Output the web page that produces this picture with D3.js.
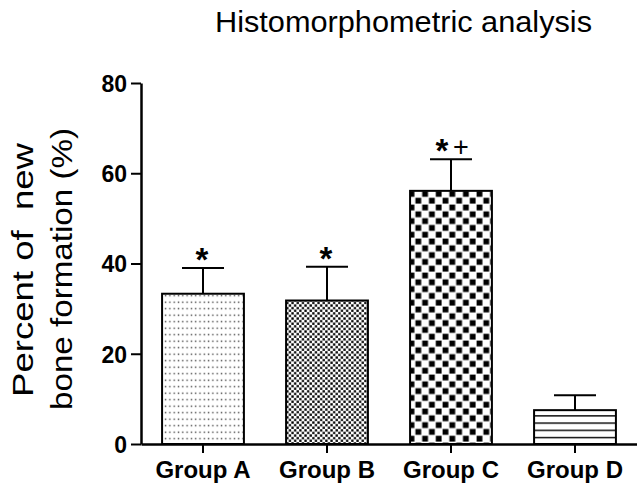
<!DOCTYPE html>
<html><head><meta charset="utf-8">
<script src="https://cdn.jsdelivr.net/npm/d3@7"></script>
<style>body{margin:0;background:#fff}svg{display:block}text{font-family:"Liberation Sans",Arial,sans-serif}</style>
</head><body>
<script>
const groups = ["Group A","Group B","Group C","Group D"];
const means = [33.3, 31.8, 56.1, 7.5];
const errors = [5.7, 7.5, 7.0, 3.3];
const stars = ["*","*","*",""];
const plus = ["","","+",""];
const patterns = ["dots","fineChecker","checker","lines"];
const yTicks = [0,20,40,60,80];

const W=637,H=486;
const svg=d3.select("body").append("svg").attr("width",W).attr("height",H);
const defs=svg.append("defs");
let p=defs.append("pattern").attr("id","dots").attr("patternUnits","userSpaceOnUse").attr("width",4.3).attr("height",6.5);
p.append("rect").attr("width",4.3).attr("height",6.5).attr("fill","#fff");
p.append("rect").attr("x",1.5).attr("y",2.5).attr("width",1.4).attr("height",1.4).attr("fill","#444");
p=defs.append("pattern").attr("id","fineChecker").attr("patternUnits","userSpaceOnUse").attr("width",5.2).attr("height",5.2);
p.append("rect").attr("width",5.2).attr("height",5.2).attr("fill","#fff");
p.append("rect").attr("x",0.2).attr("y",0.2).attr("width",2.3).attr("height",2.3).attr("fill","#000");
p.append("rect").attr("x",2.8).attr("y",2.8).attr("width",2.3).attr("height",2.3).attr("fill","#000");
p=defs.append("pattern").attr("id","checker").attr("patternUnits","userSpaceOnUse").attr("width",13.6).attr("height",13.6);
p.append("rect").attr("width",13.6).attr("height",13.6).attr("fill","#fff");
p.append("rect").attr("x",0.6).attr("y",0.6).attr("width",5.8).attr("height",5.8).attr("fill","#000");
p.append("rect").attr("x",7.4).attr("y",7.4).attr("width",5.8).attr("height",5.8).attr("fill","#000");
p=defs.append("pattern").attr("id","lines").attr("patternUnits","userSpaceOnUse").attr("width",10).attr("height",7.2).attr("y",444);
p.append("rect").attr("width",10).attr("height",7.2).attr("fill","#fff");
p.append("rect").attr("x",0).attr("y",0).attr("width",10).attr("height",1.4).attr("fill","#000");

const y=d3.scaleLinear().domain([0,80]).range([444,83]);
const x=d3.scaleBand().domain(groups).range([141,637]).paddingInner(0.34).paddingOuter(0.17);

svg.append("text").attr("x",403.5).attr("y",32).attr("text-anchor","middle")
  .attr("font-size",30).attr("textLength",377).attr("lengthAdjust","spacingAndGlyphs")
  .text("Histomorphometric analysis");

const yl=svg.append("g");
yl.append("text").attr("transform","translate(33,270) rotate(-90)").attr("text-anchor","middle")
  .attr("font-size",30).attr("textLength",254).attr("lengthAdjust","spacingAndGlyphs").style("white-space","pre").text("Percent of  new");
yl.append("text").attr("transform","translate(72,269) rotate(-90)").attr("text-anchor","middle")
  .attr("font-size",30).attr("textLength",282).attr("lengthAdjust","spacingAndGlyphs").text("bone formation (%)");

const bars=svg.append("g");
groups.forEach((g,i)=>{
  const bx=x(g), bw=x.bandwidth(), cx=bx+bw/2;
  const top=y(means[i]), cap=y(means[i]+errors[i]);
  bars.append("line").attr("x1",cx).attr("x2",cx).attr("y1",top).attr("y2",cap).attr("stroke","#000").attr("stroke-width",2);
  bars.append("line").attr("x1",cx-21).attr("x2",cx+21).attr("y1",cap).attr("y2",cap).attr("stroke","#000").attr("stroke-width",2);
  bars.append("rect").attr("x",bx).attr("y",top).attr("width",bw).attr("height",y(0)-top)
    .attr("fill","url(#"+patterns[i]+")").attr("stroke","#000").attr("stroke-width",2);
  const sx = plus[i] ? cx-9 : cx-1;
  if(stars[i]) bars.append("text").attr("x",sx).attr("y",cap+3).attr("text-anchor","middle")
    .attr("font-size",33).attr("font-weight","bold").text(stars[i]);
  if(plus[i]) bars.append("text").attr("x",cx+10).attr("y",cap-3).attr("text-anchor","middle")
    .attr("font-size",27).text(plus[i]);
});

const ya=svg.append("g").attr("transform","translate(141,0)").call(d3.axisLeft(y).tickValues(yTicks).tickSize(10).tickSizeOuter(0).tickPadding(4));
ya.select(".domain").attr("stroke-width",2.5);
ya.selectAll(".tick line").attr("stroke-width",2);
ya.selectAll(".tick text").attr("font-size",23).attr("font-weight","bold").attr("font-family","Liberation Sans, Arial, sans-serif").attr("dy","0.36em");
const xa=svg.append("g").attr("transform","translate(0,444)").call(d3.axisBottom(x).tickSize(9).tickSizeOuter(0).tickPadding(8));
xa.select(".domain").attr("stroke-width",2.5);
xa.selectAll(".tick line").attr("stroke-width",2);
xa.selectAll(".tick text").attr("font-size",24).attr("font-weight","bold").attr("font-family","Liberation Sans, Arial, sans-serif");
</script>
</body></html>
